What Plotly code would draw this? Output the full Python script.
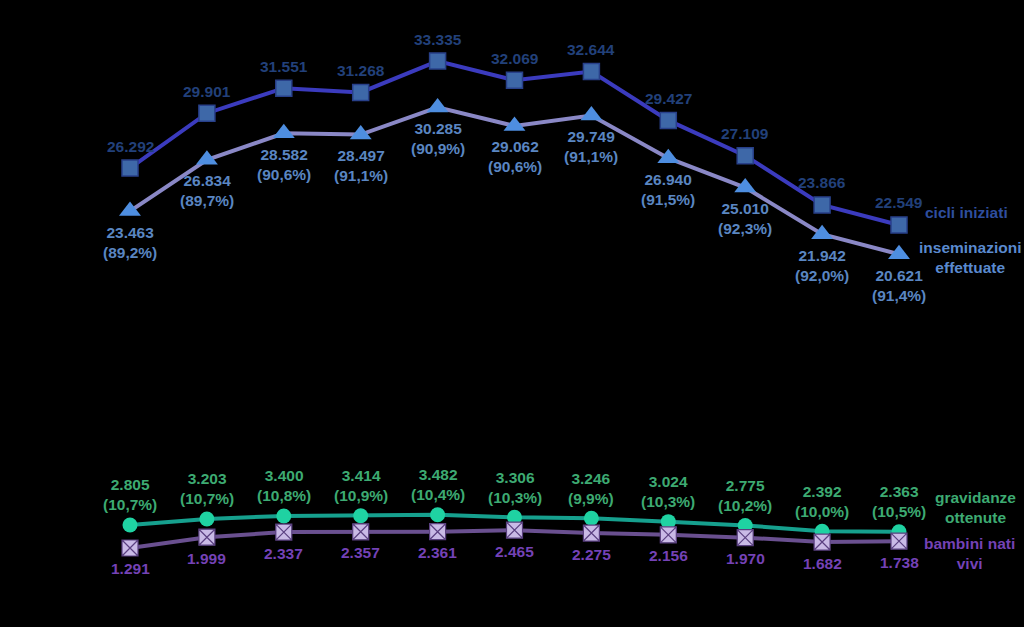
import plotly.graph_objects as go

x_idx = list(range(11))

cicli = [26292, 29901, 31551, 31268, 33335, 32069, 32644, 29427, 27109, 23866, 22549]
insem = [23463, 26834, 28582, 28497, 30285, 29062, 29749, 26940, 25010, 21942, 20621]
insem_pct = ["89,2%", "89,7%", "90,6%", "91,1%", "90,9%", "90,6%", "91,1%", "91,5%", "92,3%", "92,0%", "91,4%"]
grav = [2805, 3203, 3400, 3414, 3482, 3306, 3246, 3024, 2775, 2392, 2363]
grav_pct = ["10,7%", "10,7%", "10,8%", "10,9%", "10,4%", "10,3%", "9,9%", "10,3%", "10,2%", "10,0%", "10,5%"]
bamb = [1291, 1999, 2337, 2357, 2361, 2465, 2275, 2156, 1970, 1682, 1738]

series_names = ["cicli iniziati", "inseminazioni<br>effettuate", "gravidanze<br>ottenute", "bambini nati<br>vivi"]


def it(v):
    return f"{v:,}".replace(",", ".")


FONT = "Liberation Sans, Arial, sans-serif"
FS = 15.5

fig = go.Figure()

fig.add_trace(go.Scatter(
    x=x_idx, y=cicli, mode="lines+markers",
    line=dict(color="#3B3BBE", width=4),
    marker=dict(symbol="square", size=16, color="#3E68A8", line=dict(color="#28408A", width=1.5)),
    cliponaxis=False, showlegend=False,
))
fig.add_trace(go.Scatter(
    x=x_idx, y=insem, mode="lines+markers",
    line=dict(color="#8A88C6", width=4),
    marker=dict(symbol="triangle-up", size=19, color="#4E8EE0", line=dict(width=0)),
    cliponaxis=False, showlegend=False,
))
fig.add_trace(go.Scatter(
    x=x_idx, y=grav, mode="lines+markers",
    line=dict(color="#16A08E", width=4),
    marker=dict(symbol="circle", size=15, color="#1FD2A2", line=dict(width=0)),
    cliponaxis=False, showlegend=False,
))
fig.add_trace(go.Scatter(
    x=x_idx, y=bamb, mode="lines+markers",
    line=dict(color="#6A5090", width=4),
    marker=dict(symbol="square-x", size=16, color="#C9BAE6", line=dict(color="#5A4080", width=1.2)),
    cliponaxis=False, showlegend=False,
))


def add_labels(values, texts, yshift, color):
    for xi, v, t in zip(x_idx, values, texts):
        fig.add_annotation(
            x=xi, y=v, text=t, showarrow=False, xanchor="center", yanchor="middle",
            yshift=yshift,
            font=dict(family=FONT, size=FS, color=color, weight="bold"),
        )


add_labels(cicli, [it(v) for v in cicli], 22, "#22407A")
add_labels(insem, [f"{it(v)}<br>({p})" for v, p in zip(insem, insem_pct)], -31, "#5A86C2")
add_labels(grav, [f"{it(v)}<br>({p})" for v, p in zip(grav, grav_pct)], 30, "#3DAA72")
add_labels(bamb, [it(v) for v in bamb], -21, "#7442B6")

label_specs = [
    (series_names[0], 966, 212, "#2E4E9E"),
    (series_names[1], 970, 258, "#5A8ACF"),
    (series_names[2], 975, 507, "#3DAA72"),
    (series_names[3], 969, 553, "#7442B6"),
]
for txt, px, py, col in label_specs:
    fig.add_annotation(
        x=px / 1024, y=1 - py / 627, xref="paper", yref="paper",
        text=txt, showarrow=False, xanchor="center", yanchor="middle",
        font=dict(family=FONT, size=FS, color=col, weight="bold"),
    )

# pixel mapping: x index i -> 130 + 76.9*i ; value v -> 567.6 - 0.015196*v
x0 = -130 / 76.9
x1 = (1024 - 130) / 76.9
y_top = 567.6 / 0.015196
y_bot = (567.6 - 627) / 0.015196

fig.update_layout(
    width=1024, height=627,
    margin=dict(l=0, r=0, t=0, b=0),
    paper_bgcolor="black", plot_bgcolor="black",
    xaxis=dict(range=[x0, x1], visible=False),
    yaxis=dict(range=[y_bot, y_top], visible=False),
)

fig.write_html("out.html")
